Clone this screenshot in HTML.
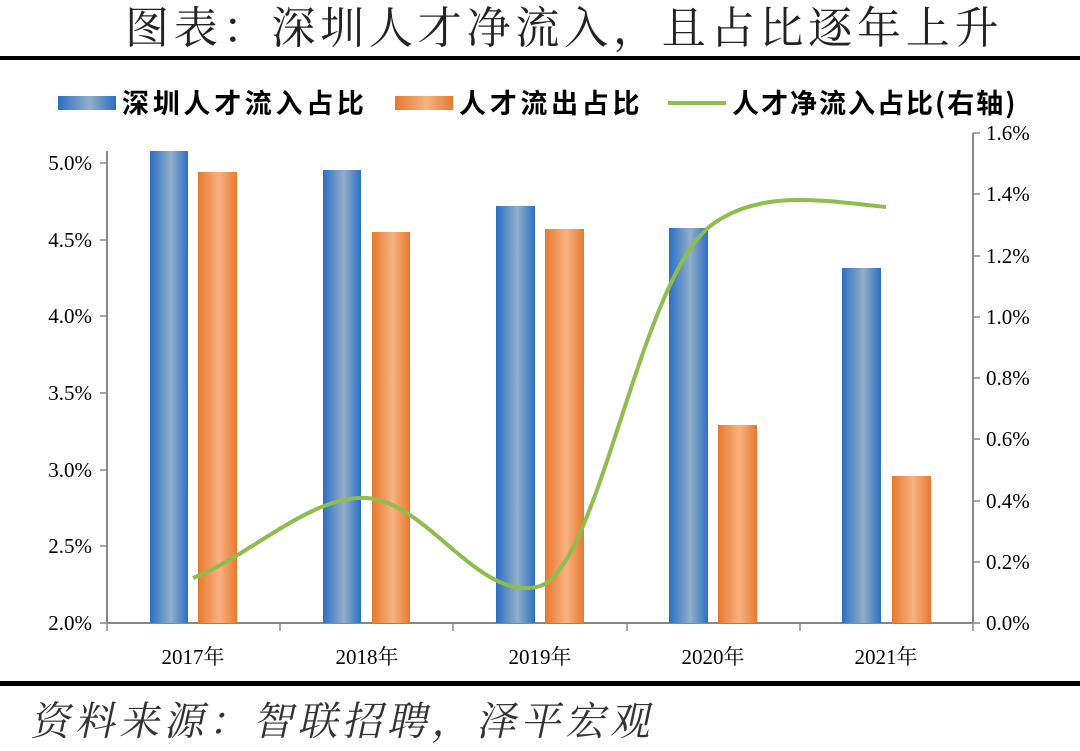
<!DOCTYPE html>
<html><head><meta charset="utf-8"><style>
body{margin:0;width:1080px;height:746px;background:#fff;overflow:hidden;font-family:"Liberation Serif","Noto Serif CJK SC",serif}
</style></head><body>
<svg width="1080" height="746" xmlns="http://www.w3.org/2000/svg">
<defs>
<linearGradient id="b" x1="0" x2="1" y1="0" y2="0"><stop offset="0" stop-color="#2a70c4"/><stop offset="0.55" stop-color="#93aec9"/><stop offset="1" stop-color="#2a70c4"/></linearGradient>
<linearGradient id="o" x1="0" x2="1" y1="0" y2="0"><stop offset="0" stop-color="#e8782e"/><stop offset="0.55" stop-color="#f7b281"/><stop offset="1" stop-color="#e8782e"/></linearGradient>
</defs>
<text x="125" y="43" font-size="44" fill="#222" letter-spacing="4.8" font-family="'Noto Serif CJK SC',serif">图表：深圳人才净流入，且占比逐年上升</text>
<rect x="0" y="56" width="1080" height="4" fill="#000"/>
<g font-family="'Noto Sans CJK SC',sans-serif" font-weight="bold" font-size="27" fill="#000" letter-spacing="3.7">
<rect x="58" y="96" width="58" height="14" fill="url(#b)"/><text x="122" y="113">深圳人才流入占比</text>
<rect x="395" y="96" width="58" height="14" fill="url(#o)"/><text x="459" y="113">人才流出占比</text>
<line x1="668" y1="103" x2="726" y2="103" stroke="#8fbc4f" stroke-width="4"/><text x="732" y="113" letter-spacing="2">人才净流入占比(右轴)</text>
</g>
<g stroke="#888" stroke-width="2">
<line x1="107" y1="623" x2="973" y2="623"/>
<line x1="107" y1="151" x2="107" y2="623"/>
<line x1="973" y1="133" x2="973" y2="623"/>
</g>
<g stroke="#888" stroke-width="1.5">
<line x1="100" y1="163" x2="107" y2="163"/><line x1="100" y1="240" x2="107" y2="240"/><line x1="100" y1="316" x2="107" y2="316"/><line x1="100" y1="393" x2="107" y2="393"/><line x1="100" y1="470" x2="107" y2="470"/><line x1="100" y1="546" x2="107" y2="546"/><line x1="100" y1="623" x2="107" y2="623"/>
<line x1="973" y1="133" x2="980" y2="133"/><line x1="973" y1="194" x2="980" y2="194"/><line x1="973" y1="256" x2="980" y2="256"/><line x1="973" y1="317" x2="980" y2="317"/><line x1="973" y1="378" x2="980" y2="378"/><line x1="973" y1="439" x2="980" y2="439"/><line x1="973" y1="501" x2="980" y2="501"/><line x1="973" y1="562" x2="980" y2="562"/><line x1="973" y1="623" x2="980" y2="623"/>
<line x1="107" y1="623" x2="107" y2="631"/><line x1="280" y1="623" x2="280" y2="631"/><line x1="453" y1="623" x2="453" y2="631"/><line x1="627" y1="623" x2="627" y2="631"/><line x1="800" y1="623" x2="800" y2="631"/><line x1="973" y1="623" x2="973" y2="631"/>
</g>
<g font-size="21" fill="#000" text-anchor="end">
<text x="92" y="170">5.0%</text><text x="92" y="247">4.5%</text><text x="92" y="323">4.0%</text><text x="92" y="400">3.5%</text><text x="92" y="477">3.0%</text><text x="92" y="553">2.5%</text><text x="92" y="630">2.0%</text>
</g>
<g font-size="21" fill="#000">
<text x="986" y="140">1.6%</text><text x="986" y="201">1.4%</text><text x="986" y="263">1.2%</text><text x="986" y="324">1.0%</text><text x="986" y="385">0.8%</text><text x="986" y="446">0.6%</text><text x="986" y="508">0.4%</text><text x="986" y="569">0.2%</text><text x="986" y="630">0.0%</text>
</g>
<g font-size="21" fill="#000" text-anchor="middle">
<text x="193" y="664">2017年</text><text x="367" y="664">2018年</text><text x="540" y="664">2019年</text><text x="713" y="664">2020年</text><text x="886" y="664">2021年</text>
</g>
<rect x="150" y="151" width="38" height="472" fill="url(#b)"/>
<rect x="198" y="172" width="39" height="451" fill="url(#o)"/>
<rect x="323" y="170" width="38" height="453" fill="url(#b)"/>
<rect x="372" y="232" width="38" height="391" fill="url(#o)"/>
<rect x="496" y="206" width="39" height="417" fill="url(#b)"/>
<rect x="545" y="229" width="39" height="394" fill="url(#o)"/>
<rect x="669" y="228" width="39" height="395" fill="url(#b)"/>
<rect x="718" y="425" width="39" height="198" fill="url(#o)"/>
<rect x="842" y="268" width="39" height="355" fill="url(#b)"/>
<rect x="892" y="476" width="39" height="147" fill="url(#o)"/>
<path d="M193,578 C250,556 312,494 367,498 C428,502 480,604 540,586 C600,566 640,275 713,224 C760,190 820,200 886,207" fill="none" stroke="#8fbc4f" stroke-width="4"/>
<rect x="0" y="681" width="1080" height="5" fill="#000"/>
<g transform="translate(30,735) skewX(-12)">
<text x="0" y="0" font-size="40" fill="#333" font-family="'Noto Serif CJK SC',serif" letter-spacing="4.6">资料来源：智联招聘，泽平宏观</text>
</g>
</svg>
</body></html>
